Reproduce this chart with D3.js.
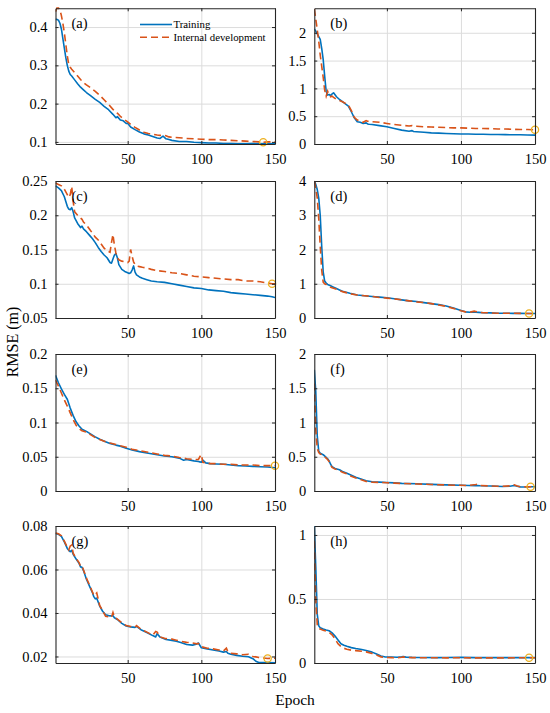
<!DOCTYPE html>
<html>
<head>
<meta charset="utf-8">
<script src="https://cdn.jsdelivr.net/npm/d3@7"></script>
<style>
  html, body { margin: 0; padding: 0; background: #fff; }
  svg { display: block; }
  text { font-family: "Liberation Serif", "Times New Roman", serif; }
</style>
</head>
<body>
<svg id="chart" width="550" height="713"></svg>
<script>
// ---------------- DATA ----------------
const panelLabels = ["(a)", "(b)", "(c)", "(d)", "(e)", "(f)", "(g)", "(h)"];
const seriesNames = ["Training", "Internal development"];
const xTicks = [50, 100, 150];

// (a)
const epochA = [1,2,3,4,5,6,7,8,9,10,11,12,14,16,18,20,22,25,28,31,34,37,40,42,43,45,47,49,50,52,55,58,61,64,67,70,72,74,76,78,80,85,90,95,100,105,110,115,120,125,130,135,140,142,145,150];
const trainA = [0.42,0.42,0.418,0.41,0.395,0.37,0.345,0.32,0.30,0.285,0.276,0.272,0.262,0.252,0.243,0.236,0.229,0.22,0.211,0.203,0.193,0.184,0.172,0.163,0.166,0.157,0.155,0.148,0.149,0.139,0.132,0.126,0.121,0.118,0.114,0.110,0.109,0.115,0.108,0.106,0.104,0.101,0.101,0.099,0.098,0.097,0.097,0.096,0.096,0.095,0.095,0.096,0.0948,0.0948,0.0948,0.0948];
const devA   = [0.44,0.45,0.45,0.445,0.43,0.41,0.385,0.355,0.325,0.302,0.295,0.29,0.281,0.272,0.263,0.255,0.249,0.241,0.232,0.222,0.21,0.198,0.185,0.177,0.175,0.167,0.16,0.155,0.152,0.146,0.138,0.131,0.125,0.122,0.12,0.118,0.117,0.118,0.116,0.113,0.112,0.111,0.109,0.108,0.107,0.106,0.106,0.105,0.104,0.103,0.102,0.101,0.1,0.099,0.1,0.1];
const bestA = [142, 0.099];
const yTicksA = [0.1, 0.2, 0.3, 0.4];

// (b)
const epochB = [1,2,3,4,5,6,7,8,9,10,11,12,13,14,16,18,20,22,24,26,28,30,32,34,36,37,38,40,45,50,55,60,65,67,68,70,75,80,85,90,95,100,105,110,115,120,125,130,135,140,145,150];
const trainB = [2.07,2.03,1.98,1.93,1.88,1.72,1.52,1.22,0.95,0.88,0.89,0.87,0.9,0.92,0.85,0.8,0.76,0.72,0.68,0.58,0.47,0.4,0.39,0.37,0.38,0.36,0.355,0.35,0.33,0.31,0.28,0.25,0.23,0.24,0.225,0.22,0.21,0.2,0.195,0.19,0.185,0.18,0.18,0.175,0.175,0.17,0.17,0.168,0.165,0.165,0.162,0.16];
const devB   = [2.43,2.25,2.05,1.85,1.6,1.4,1.2,0.97,0.86,0.95,0.88,0.85,0.86,0.84,0.8,0.78,0.76,0.73,0.7,0.6,0.48,0.43,0.41,0.39,0.42,0.41,0.41,0.4,0.39,0.37,0.35,0.335,0.325,0.33,0.32,0.32,0.31,0.305,0.3,0.295,0.29,0.29,0.285,0.28,0.28,0.275,0.27,0.27,0.265,0.26,0.26,0.255];
const bestB = [150, 0.255];
const yTicksB = [0, 0.5, 1, 1.5, 2];

// (c)
const epochC = [1,3,5,7,9,10,11,12,13,14,16,18,19,20,22,24,26,28,30,32,34,36,38,39,40,41,42,43,44,46,48,50,51,52,53,54,55,56,58,60,63,66,70,75,80,85,90,95,100,105,110,115,120,125,130,135,140,145,148,150];
const trainC = [0.243,0.24,0.236,0.227,0.213,0.209,0.208,0.211,0.205,0.196,0.188,0.182,0.184,0.18,0.176,0.171,0.166,0.16,0.153,0.147,0.142,0.138,0.131,0.13,0.136,0.142,0.144,0.138,0.128,0.121,0.118,0.116,0.115,0.116,0.12,0.126,0.117,0.113,0.11,0.108,0.106,0.104,0.103,0.102,0.1,0.098,0.096,0.094,0.093,0.091,0.09,0.089,0.087,0.086,0.085,0.084,0.083,0.082,0.081,0.08];
const devC   = [0.247,0.245,0.243,0.238,0.23,0.226,0.23,0.242,0.22,0.205,0.2,0.196,0.194,0.19,0.186,0.18,0.174,0.168,0.164,0.158,0.152,0.148,0.146,0.16,0.172,0.156,0.145,0.138,0.135,0.133,0.132,0.131,0.133,0.15,0.14,0.132,0.128,0.126,0.125,0.124,0.123,0.121,0.119,0.118,0.116,0.115,0.113,0.111,0.11,0.109,0.108,0.107,0.106,0.106,0.104,0.104,0.103,0.101,0.1,0.1];
const bestC = [148, 0.1];
const yTicksC = [0.05, 0.1, 0.15, 0.2, 0.25];

// (d)
const epochD = [1,2,3,4,5,6,7,8,9,10,12,14,16,18,20,25,30,35,40,45,50,55,60,65,70,75,80,85,90,95,100,103,106,109,110,112,115,120,125,130,135,140,146,150];
const trainD = [4.0,3.9,3.75,3.5,3.0,2.1,1.35,1.08,1.02,0.98,0.94,0.9,0.86,0.82,0.78,0.72,0.67,0.65,0.63,0.61,0.59,0.56,0.53,0.5,0.48,0.45,0.42,0.39,0.35,0.29,0.22,0.18,0.17,0.17,0.17,0.165,0.155,0.15,0.14,0.14,0.135,0.135,0.13,0.13];
const devD   = [4.0,3.8,3.5,2.9,2.1,1.4,1.05,1.0,0.98,0.95,0.9,0.87,0.84,0.8,0.77,0.71,0.67,0.65,0.63,0.6,0.58,0.56,0.53,0.5,0.47,0.45,0.42,0.38,0.34,0.28,0.21,0.18,0.17,0.2,0.19,0.17,0.155,0.15,0.14,0.14,0.14,0.135,0.13,0.135];
const bestD = [146, 0.13];
const yTicksD = [0, 1, 2, 3, 4];

// (e)
const epochE = [1,3,5,7,9,11,13,15,17,19,22,25,28,31,35,38,42,45,49,53,58,63,70,75,80,85,88,90,95,98,99,100,101,103,106,110,115,120,125,130,135,140,145,150];
const trainE = [0.169,0.158,0.149,0.141,0.134,0.121,0.11,0.101,0.095,0.09,0.087,0.083,0.079,0.0755,0.072,0.0695,0.067,0.0655,0.0625,0.06,0.0575,0.0555,0.053,0.051,0.05,0.048,0.045,0.046,0.044,0.043,0.0425,0.042,0.045,0.041,0.04,0.0395,0.039,0.038,0.037,0.0365,0.036,0.0355,0.035,0.034];
const devE   = [0.162,0.153,0.143,0.133,0.124,0.114,0.104,0.096,0.091,0.088,0.086,0.082,0.078,0.075,0.072,0.07,0.068,0.066,0.064,0.061,0.059,0.057,0.054,0.052,0.051,0.049,0.048,0.047,0.046,0.046,0.05,0.053,0.042,0.041,0.04,0.04,0.039,0.039,0.038,0.038,0.038,0.037,0.037,0.037];
const bestE = [150, 0.037];
const yTicksE = [0, 0.05, 0.1, 0.15, 0.2];

// (f)
const epochF = [1,2,3,4,5,7,9,10,11,12,13,15,18,20,23,26,29,32,36,40,45,50,55,60,70,80,90,100,105,110,111,113,120,128,133,136,138,140,145,147,150];
const trainF = [1.77,1.45,0.8,0.58,0.55,0.53,0.49,0.47,0.44,0.39,0.355,0.33,0.31,0.285,0.26,0.23,0.2,0.18,0.15,0.135,0.13,0.125,0.118,0.112,0.105,0.097,0.09,0.084,0.08,0.078,0.078,0.076,0.073,0.065,0.07,0.08,0.07,0.06,0.058,0.062,0.062];
const devF   = [1.57,0.9,0.62,0.56,0.54,0.52,0.48,0.46,0.43,0.38,0.345,0.32,0.3,0.275,0.25,0.215,0.19,0.17,0.14,0.13,0.125,0.12,0.115,0.11,0.103,0.095,0.088,0.083,0.08,0.095,0.1,0.08,0.073,0.068,0.075,0.09,0.072,0.063,0.06,0.063,0.065];
const bestF = [147, 0.063];
const yTicksF = [0, 0.5, 1, 1.5, 2];

// (g)
const epochG = [1,3,5,7,9,10,11,12,13,15,17,18,19,20,22,24,26,27,28,29,31,33,35,37,39,40,41,43,46,49,52,55,56,59,63,67,69,70,72,76,80,83,86,90,94,97,98,100,104,108,112,115,117,118,120,124,128,132,135,137,139,142,145,150];
const trainG = [0.0766,0.0762,0.0752,0.0727,0.0697,0.0688,0.0682,0.0688,0.067,0.0648,0.0628,0.0612,0.061,0.0595,0.0555,0.0525,0.0495,0.0475,0.0465,0.0468,0.0432,0.0408,0.0392,0.0388,0.0386,0.0388,0.0378,0.037,0.0352,0.034,0.0336,0.0334,0.0338,0.0323,0.031,0.0296,0.029,0.0305,0.0289,0.0278,0.0274,0.027,0.0264,0.0255,0.0252,0.0258,0.0262,0.024,0.0235,0.023,0.0225,0.022,0.0223,0.0215,0.021,0.0205,0.0201,0.0199,0.019,0.0178,0.0172,0.0172,0.0172,0.0171];
const devG   = [0.0768,0.0764,0.0755,0.073,0.0702,0.069,0.0708,0.0712,0.0675,0.065,0.0632,0.0615,0.0617,0.0598,0.056,0.053,0.0498,0.048,0.0485,0.0492,0.0435,0.041,0.0385,0.0383,0.038,0.0402,0.038,0.0372,0.0355,0.0342,0.0338,0.0335,0.0342,0.0325,0.0312,0.0298,0.0315,0.0312,0.029,0.0282,0.028,0.0275,0.027,0.0265,0.0262,0.0258,0.026,0.0245,0.0238,0.0235,0.023,0.0225,0.0238,0.0222,0.0215,0.0212,0.0208,0.021,0.02,0.0198,0.0195,0.0193,0.0191,0.0192];
const bestG = [145, 0.0191];
const yTicksG = [0.02, 0.04, 0.06, 0.08];

// (h)
const epochH = [1,2,3,4,5,7,9,11,13,15,17,19,21,23,26,29,33,36,40,43,46,49,53,57,60,61,63,67,75,85,90,100,110,120,130,140,146,150];
const trainH = [1.07,0.75,0.38,0.29,0.275,0.265,0.258,0.252,0.235,0.21,0.18,0.15,0.138,0.13,0.12,0.113,0.105,0.097,0.085,0.07,0.055,0.047,0.047,0.045,0.048,0.05,0.046,0.044,0.043,0.042,0.043,0.044,0.042,0.042,0.042,0.042,0.042,0.042];
const devH   = [0.95,0.5,0.3,0.27,0.265,0.255,0.25,0.24,0.22,0.19,0.15,0.128,0.115,0.108,0.1,0.097,0.092,0.087,0.075,0.062,0.048,0.043,0.042,0.04,0.045,0.048,0.043,0.042,0.041,0.041,0.04,0.041,0.04,0.04,0.04,0.041,0.041,0.041];
const bestH = [146, 0.041];
const yTicksH = [0, 0.5, 1];

// y-axis limits per panel
const yLimits = [[0.0945, 0.449], [0, 2.44], [0.05, 0.25], [0, 4], [0, 0.2], [0, 2], [0.017, 0.08], [0, 1.07]];

// ---------------- LAYOUT ----------------
const colX = [[55.5, 275], [314.3, 535]];
const rowY = [[8.3, 144], [181, 318], [354, 491], [526, 663]];
const BLUE = "#0072BD", ORANGE = "#D95319", GOLD = "#EDB120", AX = "#262626", GRID = "#dcdcdc";
const SERIF = '"Liberation Serif", "Times New Roman", serif';
const FONT = 14.5;

const panels = [
  {e: epochA, t: trainA, d: devA, best: bestA, yt: yTicksA},
  {e: epochB, t: trainB, d: devB, best: bestB, yt: yTicksB},
  {e: epochC, t: trainC, d: devC, best: bestC, yt: yTicksC},
  {e: epochD, t: trainD, d: devD, best: bestD, yt: yTicksD},
  {e: epochE, t: trainE, d: devE, best: bestE, yt: yTicksE},
  {e: epochF, t: trainF, d: devF, best: bestF, yt: yTicksF},
  {e: epochG, t: trainG, d: devG, best: bestG, yt: yTicksG},
  {e: epochH, t: trainH, d: devH, best: bestH, yt: yTicksH}
];

const svg = d3.select("#chart");
const defs = svg.append("defs");

panels.forEach((p, i) => {
  const col = i % 2, row = Math.floor(i / 2);
  const [x0, x1] = colX[col], [y0, y1] = rowY[row];
  const x = d3.scaleLinear().domain([1, 150]).range([x0, x1]);
  const y = d3.scaleLinear().domain(yLimits[i]).range([y1, y0]);
  const g = svg.append("g");

  // grid
  g.append("g").attr("transform", `translate(0,${y1})`)
    .call(d3.axisBottom(x).tickValues(xTicks).tickSize(-(y1 - y0)).tickFormat(""))
    .call(s => { s.select(".domain").remove(); s.selectAll("line").attr("stroke", GRID).attr("stroke-width", 1); });
  g.append("g").attr("transform", `translate(${x0},0)`)
    .call(d3.axisLeft(y).tickValues(p.yt).tickSize(-(x1 - x0)).tickFormat(""))
    .call(s => { s.select(".domain").remove(); s.selectAll("line").attr("stroke", GRID).attr("stroke-width", 1); });

  // clip
  const cid = "clip" + i;
  defs.append("clipPath").attr("id", cid).append("rect")
    .attr("x", x0).attr("y", y0 - 1).attr("width", x1 - x0).attr("height", y1 - y0 + 2);

  const idx = d3.range(p.e.length);
  const lineFor = vals => d3.line().x(k => x(p.e[k])).y(k => y(vals[k]))(idx);

  const plot = g.append("g").attr("clip-path", `url(#${cid})`);
  plot.append("path").attr("d", lineFor(p.t)).attr("fill", "none")
    .attr("stroke", BLUE).attr("stroke-width", 1.6).attr("stroke-linejoin", "round");
  plot.append("path").attr("d", lineFor(p.d)).attr("fill", "none")
    .attr("stroke", ORANGE).attr("stroke-width", 1.6).attr("stroke-dasharray", "7,4");

  // best marker
  g.append("circle").attr("cx", x(p.best[0])).attr("cy", y(p.best[1])).attr("r", 3.6)
    .attr("fill", "none").attr("stroke", GOLD).attr("stroke-width", 1.3);

  // axes box
  const styleAx = s => {
    s.attr("font-family", SERIF).attr("font-size", FONT);
    s.select(".domain").attr("stroke", AX).attr("stroke-width", 1.1);
    s.selectAll(".tick line").attr("stroke", AX).attr("stroke-width", 1);
    s.selectAll("text").attr("fill", "#000").style("font-size", FONT + "px").style("font-family", SERIF);
  };
  g.append("g").attr("transform", `translate(0,${y1})`)
    .call(d3.axisBottom(x).tickValues(xTicks).tickSize(-3).tickSizeOuter(0).tickPadding(10).tickFormat(d3.format("d")))
    .call(styleAx);
  g.append("g").attr("transform", `translate(0,${y0})`)
    .call(d3.axisTop(x).tickValues(xTicks).tickSize(-3).tickSizeOuter(0).tickFormat(""))
    .call(styleAx);
  g.append("g").attr("transform", `translate(${x0},0)`)
    .call(d3.axisLeft(y).tickValues(p.yt).tickSize(-3).tickSizeOuter(0).tickPadding(8).tickFormat(d => String(+d.toFixed(3))))
    .call(styleAx);
  g.append("g").attr("transform", `translate(${x1},0)`)
    .call(d3.axisRight(y).tickValues(p.yt).tickSize(-3).tickSizeOuter(0).tickFormat(""))
    .call(styleAx);

  // panel label
  g.append("text").attr("x", x0 + 16).attr("y", y0 + 20).text(panelLabels[i])
    .style("font-size", "14.5px").style("font-family", SERIF).attr("fill", "#000");

  // legend in first panel
  if (i === 0) {
    const lg = g.append("g");
    const ly = [24.5, 37.3];
    [BLUE, ORANGE].forEach((c, k) => {
      lg.append("line").attr("x1", 140).attr("x2", 172).attr("y1", ly[k]).attr("y2", ly[k])
        .attr("stroke", c).attr("stroke-width", 1.6)
        .attr("stroke-dasharray", k === 1 ? "7,4" : null);
      lg.append("text").attr("x", 173.5).attr("y", ly[k]).attr("dy", "0.35em")
        .text(seriesNames[k]).style("font-size", "10.8px").style("font-family", SERIF).attr("fill", "#000");
    });
  }
});

// axis titles
svg.append("text").attr("x", 295).attr("y", 705).attr("text-anchor", "middle")
  .text("Epoch").style("font-size", "15.5px").style("font-family", SERIF).attr("fill", "#000");
svg.append("text").attr("transform", "translate(18,342) rotate(-90)").attr("text-anchor", "middle")
  .text("RMSE (m)").style("font-size", "16px").style("font-family", SERIF).attr("fill", "#000");
</script>
</body>
</html>
